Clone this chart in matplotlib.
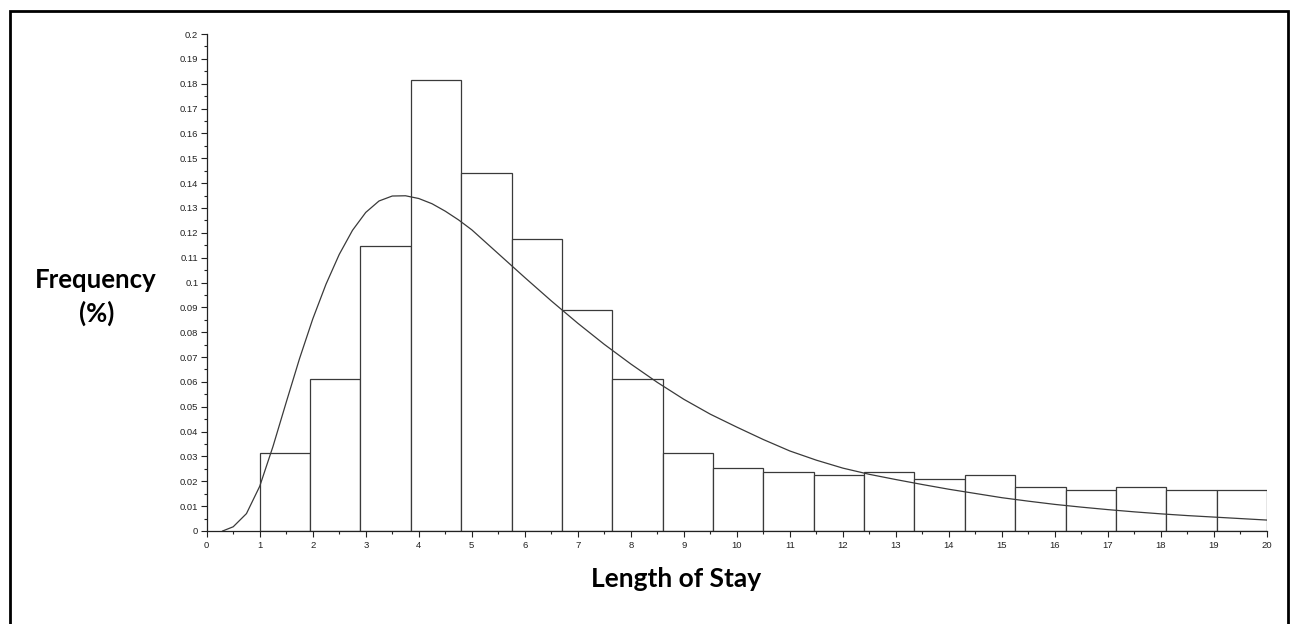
import matplotlib
matplotlib.use("Agg")
import matplotlib.pyplot as plt
from matplotlib.lines import Line2D
import numpy as np

# Histogram: 20 bins of equal width from 1 to 20
bin_start = 1.0
bin_end = 20.0
n_bins = 20
freq = [0.0314, 0.0612, 0.1147, 0.1813, 0.1440, 0.1175, 0.0889, 0.0612,
        0.0314, 0.0252, 0.0239, 0.0224, 0.0239, 0.0209, 0.0224, 0.0177,
        0.0165, 0.0177, 0.0165, 0.0165]

# Fitted density curve
curve_x = [0.3, 0.5, 0.75, 1.0, 1.25, 1.5, 1.75, 2.0, 2.25, 2.5, 2.75, 3.0,
           3.25, 3.5, 3.75, 4.0, 4.25, 4.5, 4.75, 5.0, 5.5, 6.0, 6.5, 7.0,
           7.5, 8.0, 8.5, 9.0, 9.5, 10.0, 10.5, 11.0, 11.5, 12.0, 12.5, 13.0,
           13.5, 14.0, 14.5, 15.0, 15.5, 16.0, 16.5, 17.0, 17.5, 18.0, 18.5,
           19.0, 19.5, 20.0]
curve_y = [0.0000, 0.0017, 0.0070, 0.0180, 0.0340, 0.0518, 0.0693, 0.0853,
           0.0993, 0.1113, 0.1210, 0.1282, 0.1328, 0.1348, 0.1349, 0.1338,
           0.1317, 0.1287, 0.1252, 0.1212, 0.1116, 0.1020, 0.0926, 0.0836,
           0.0751, 0.0672, 0.0598, 0.0530, 0.0470, 0.0418, 0.0368, 0.0322,
           0.0285, 0.0253, 0.0228, 0.0207, 0.0187, 0.0168, 0.0151, 0.0134,
           0.0120, 0.0107, 0.0096, 0.0086, 0.0077, 0.0069, 0.0062, 0.0056,
           0.0050, 0.0044]

x_ticks = list(range(0, 21))
y_ticks = [round(0.01 * i, 2) for i in range(0, 21)]

W, H, DPI = 1292, 624, 100
fig = plt.figure(figsize=(W / DPI, H / DPI), dpi=DPI)
ax = fig.add_axes([206.7 / W, 1 - 531 / H, (1267 - 206.7) / W, (531 - 34) / H])

edges = np.linspace(bin_start, bin_end, n_bins + 1)
widths = np.diff(edges)
ax.bar(edges[:-1], freq, width=widths, align="edge", facecolor="white",
       edgecolor="#3a3a3a", linewidth=0.9, zorder=2)
ax.plot(curve_x, curve_y, color="#3a3a3a", linewidth=0.9, zorder=3)

ax.set_xlim(0, 20)
ax.set_ylim(0, 0.2)
for s in ["top", "right"]:
    ax.spines[s].set_visible(False)
for s in ["left", "bottom"]:
    ax.spines[s].set_linewidth(0.9)
    ax.spines[s].set_color("#222222")

ax.set_xticks(x_ticks)
ax.set_xticklabels([f"{v:g}" for v in x_ticks])
ax.set_yticks(y_ticks)
ax.set_yticklabels([f"{v:g}" for v in y_ticks])
ax.set_xticks(np.arange(0.5, 20, 1.0), minor=True)
ax.set_yticks(np.arange(0.005, 0.2, 0.01), minor=True)
ax.tick_params(axis="both", which="major", direction="out", length=4,
               width=0.8, labelsize=6.8, pad=2, colors="#222222")
ax.tick_params(axis="both", which="minor", direction="out", length=2,
               width=0.8, colors="#222222")
ax.tick_params(axis="x", which="major", pad=3)
for lab in ax.get_xticklabels() + ax.get_yticklabels():
    lab.set_fontfamily("Liberation Sans")

fig.text(96 / W, 1 - 280 / H, "Frequency", ha="center", va="center",
         fontsize=18.5, fontweight="bold", family="Lato")
fig.text(97 / W, 1 - 313 / H, "(%)", ha="center", va="center",
         fontsize=18.5, fontweight="bold", family="Lato")
fig.text(676 / W, 1 - 579 / H, "Length of Stay", ha="center", va="center",
         fontsize=19, fontweight="bold", family="Lato")

# outer frame (left, top, right)
lft, rgt, top = 9.8 / W, 1288 / W, 1 - 11.3 / H
fig.add_artist(Line2D([lft, lft, rgt, rgt], [-0.02, top, top, -0.02],
                      transform=fig.transFigure, color="black", linewidth=2.0,
                      solid_joinstyle="miter"))

fig.savefig("out.png", dpi=DPI)
